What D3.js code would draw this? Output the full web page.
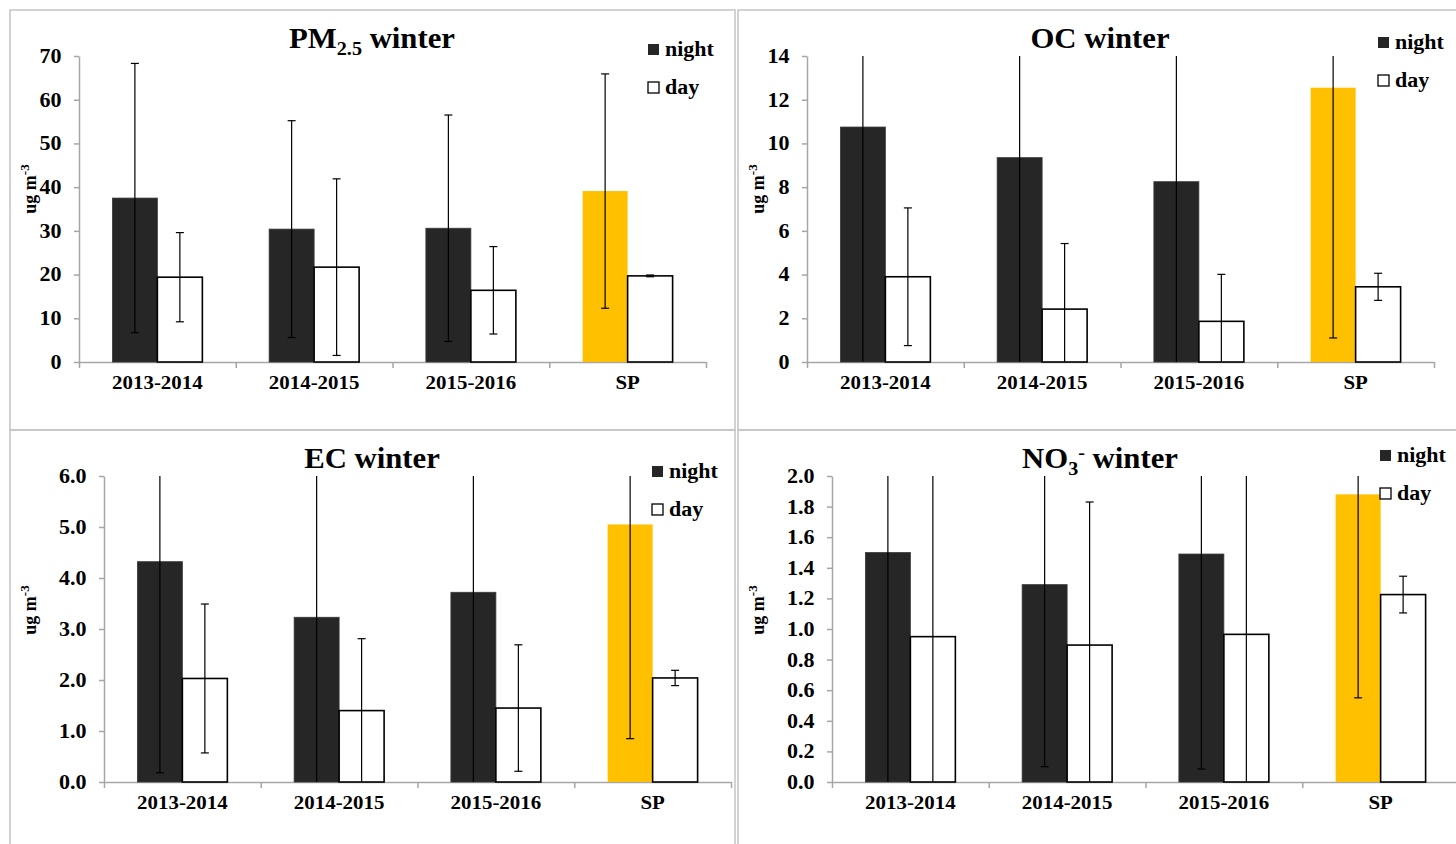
<!DOCTYPE html>
<html>
<head>
<meta charset="utf-8">
<title>Winter night / day concentrations</title>
<style>
  body { margin: 0; background: #fff; }
  svg { display: block; font-family: 'Liberation Serif', 'Times New Roman', serif; font-weight: bold; }
  .frame { fill: none; stroke: #c4c4c4; stroke-width: 1.5px; }
  .axis .domain { stroke: #a6a6a6; stroke-width: 1.5px; }
  .axis .tick line { stroke: #a6a6a6; stroke-width: 1.5px; }
  .axis .tick text { font-family: 'Liberation Serif', serif; font-weight: bold; font-size: 20px; fill: #000; }
  .cat .domain { display: none; }
  .title { font-size: 29px; }
  .legend { font-size: 20px; }
  .ylabel { font-size: 18px; }
  .err { stroke: #000; stroke-width: 1.2px; }
</style>
</head>
<body>
<svg width="1456" height="844"></svg>
<script src="https://d3js.org/d3.v7.min.js"></script>
<script>
// categories (same in all four panels)
const categories = ["2013-2014", "2014-2015", "2015-2016", "SP"];

// PM2.5 (ug m-3): mean and standard deviation
const pmNight = [37.5, 30.4, 30.6, 39.1];
const pmNightSd = [30.8, 24.8, 25.9, 26.8];
const pmDay = [19.4, 21.7, 16.4, 19.7];
const pmDaySd = [10.2, 20.2, 10.0, 0.2];

// OC
const ocNight = [10.75, 9.35, 8.25, 12.55];
const ocNightSd = [11.5, 10.2, 9.0, 11.45];
const ocDay = [3.9, 2.42, 1.86, 3.44];
const ocDaySd = [3.15, 3.0, 2.15, 0.62];

// EC
const ecNight = [4.32, 3.23, 3.72, 5.05];
const ecNightSd = [4.14, 3.5, 3.9, 4.2];
const ecDay = [2.03, 1.40, 1.45, 2.04];
const ecDaySd = [1.46, 1.41, 1.24, 0.15];

// NO3-
const noNight = [1.50, 1.29, 1.49, 1.88];
const noNightSd = [1.6, 1.19, 1.405, 1.33];
const noDay = [0.95, 0.895, 0.965, 1.225];
const noDaySd = [1.2, 0.935, 1.1, 0.12];

// y axis tick values per panel
const pmTicks = [0, 10, 20, 30, 40, 50, 60, 70];
const ocTicks = [0, 2, 4, 6, 8, 10, 12, 14];
const ecTicks = [0, 1, 2, 3, 4, 5, 6];
const noTicks = [0, 0.2, 0.4, 0.6, 0.8, 1.0, 1.2, 1.4, 1.6, 1.8, 2.0];

const SX = 1.1; // the source picture is a little stretched sideways
const nightColor = "#262626";
const spColor = "#FFC000";

let svg = d3.select("svg");

let panels = [
  { title: [["PM", 0], ["2.5", 1], [" winter", 0]], night: pmNight, nightSd: pmNightSd, day: pmDay, daySd: pmDaySd,
    ticks: pmTicks, fmt: d3.format("d"),
    box: [10, 10, 725, 420], plot: [79, 56, 627, 306], legend: [648, 44], ylab: [36, 189] },
  { title: [["OC winter", 0]], night: ocNight, nightSd: ocNightSd, day: ocDay, daySd: ocDaySd,
    ticks: ocTicks, fmt: d3.format("d"),
    box: [738, 10, 740, 420], plot: [807, 56, 627, 306], legend: [1378, 37], ylab: [764, 189] },
  { title: [["EC winter", 0]], night: ecNight, nightSd: ecNightSd, day: ecDay, daySd: ecDaySd,
    ticks: ecTicks, fmt: d3.format(".1f"),
    box: [10, 430, 725, 440], plot: [104, 476, 627, 306], legend: [652, 466], ylab: [36, 610] },
  { title: [["NO", 0], ["3", 1], ["-", -1], [" winter", 0]], night: noNight, nightSd: noNightSd, day: noDay, daySd: noDaySd,
    ticks: noTicks, fmt: d3.format(".1f"),
    box: [738, 430, 740, 440], plot: [832, 476, 627, 306], legend: [1380, 450], ylab: [764, 610] }
];

panels.forEach(p => {
  let [bx, by, bw, bh] = p.box;
  let [px, py, pw, ph] = p.plot;

  svg.append("rect").attr("class", "frame")
    .attr("x", bx).attr("y", by).attr("width", bw).attr("height", bh);

  // title with sub / superscripts
  let title = svg.append("text").attr("class", "title")
    .attr("text-anchor", "middle")
    .attr("transform", `translate(${bx + 362},${by + 38}) scale(1.06,1)`);
  let shift = 0;
  p.title.forEach(([s, kind]) => {
    let target = kind === 1 ? 7 : kind === -1 ? -9 : 0;
    title.append("tspan")
      .attr("dy", target - shift)
      .style("font-size", kind === 0 ? null : "19px")
      .text(s);
    shift = target;
  });

  let g = svg.append("g").attr("transform", `translate(${px},${py})`);

  let yMax = p.ticks[p.ticks.length - 1];
  let y = d3.scaleLinear().domain([0, yMax]).range([ph, 0]);
  let x0 = d3.scaleBand().domain(categories).range([0, pw]);
  let barW = x0.bandwidth() * 0.287;
  let x1 = d3.scaleBand().domain(["night", "day"])
    .range([x0.bandwidth() / 2 - barW, x0.bandwidth() / 2 + barW]);
  let bounds = d3.scaleLinear().domain([0, categories.length]).range([0, pw]);

  // y axis
  let yAxis = g.append("g").attr("class", "axis")
    .call(d3.axisLeft(y).tickValues(p.ticks).tickSize(5).tickSizeOuter(0).tickPadding(11).tickFormat(p.fmt));
  yAxis.selectAll(".tick text").attr("transform", `scale(${SX},1)`);

  // x axis: boundary ticks, then category labels
  g.append("g").attr("class", "axis")
    .attr("transform", `translate(0,${ph})`)
    .call(d3.axisBottom(bounds).tickValues(d3.range(categories.length + 1)).tickSize(6).tickSizeOuter(0).tickFormat(""));
  let xAxis = g.append("g").attr("class", "axis cat")
    .attr("transform", `translate(0,${ph})`)
    .call(d3.axisBottom(x0).tickSize(0).tickPadding(14));
  xAxis.selectAll(".tick text").style("font-size", "19px").attr("transform", `scale(${SX},1)`);

  let rows = categories.map((c, i) => ({
    cat: c, i: i,
    bars: [
      { key: "night", v: p.night[i], sd: p.nightSd[i] },
      { key: "day", v: p.day[i], sd: p.daySd[i] }
    ]
  }));

  let groups = g.selectAll(".grp")
    .data(rows)
    .join("g")
      .attr("class", "grp")
      .attr("transform", d => `translate(${x0(d.cat)},0)`);

  groups.selectAll("rect")
    .data(d => d.bars.map(b => Object.assign({ cat: d.cat }, b)))
    .join("rect")
      .attr("x", d => x1(d.key))
      .attr("width", x1.bandwidth())
      .attr("y", d => y(d.v))
      .attr("height", d => ph - y(d.v))
      .attr("fill", d => d.key === "day" ? "#fff" : (d.cat === "SP" ? spColor : nightColor))
      .attr("stroke", d => d.key === "day" ? "#000" : (d.cat === "SP" ? "none" : "#3a3a3a"))
      .attr("stroke-width", d => d.key === "day" ? 1.6 : 0.8);

  // error bars, clipped at the axis limits like the original
  let errs = groups.selectAll(".eb")
    .data(d => d.bars)
    .join("g")
      .attr("class", "eb")
      .attr("transform", d => `translate(${x1(d.key) + x1.bandwidth() / 2},0)`);
  errs.append("line").attr("class", "err")
    .attr("y1", d => y(Math.min(d.v + d.sd, yMax)))
    .attr("y2", d => y(Math.max(d.v - d.sd, 0)));
  errs.filter(d => d.v + d.sd <= yMax).append("line").attr("class", "err")
    .attr("x1", -4).attr("x2", 4)
    .attr("y1", d => y(d.v + d.sd)).attr("y2", d => y(d.v + d.sd));
  errs.filter(d => d.v - d.sd >= 0).append("line").attr("class", "err")
    .attr("x1", -4).attr("x2", 4)
    .attr("y1", d => y(d.v - d.sd)).attr("y2", d => y(d.v - d.sd));

  // y label
  let yl = svg.append("text").attr("class", "ylabel")
    .attr("text-anchor", "middle")
    .attr("transform", `translate(${p.ylab[0]},${p.ylab[1]}) rotate(-90)`);
  yl.append("tspan").text("ug m");
  yl.append("tspan").attr("dy", -7).style("font-size", "13px").text("-3");

  // legend
  let [lx, ly] = p.legend;
  [["night", nightColor, "none"], ["day", "#fff", "#000"]].forEach(([name, fill, stroke], k) => {
    svg.append("rect")
      .attr("x", lx).attr("y", ly + k * 38)
      .attr("width", 11).attr("height", 11)
      .attr("fill", fill).attr("stroke", stroke).attr("stroke-width", 1.3);
    svg.append("text").attr("class", "legend")
      .attr("transform", `translate(${lx + 17},${ly + 11.5 + k * 38}) scale(${SX},1)`)
      .text(name);
  });
});
</script>
</body>
</html>
